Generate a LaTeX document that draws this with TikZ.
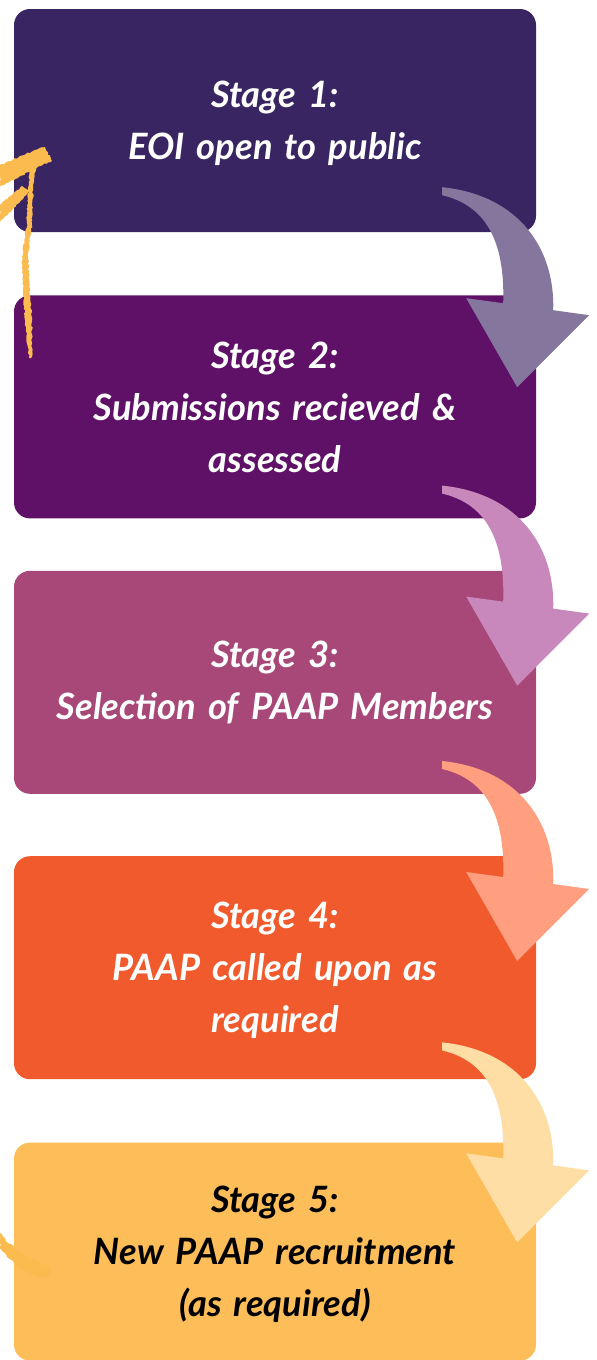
\documentclass[tikz,border=0pt]{standalone}
\usepackage{amsmath}
\usepackage{fontspec}
\setmainfont{Lato}
\usepackage{tikz}
\usetikzlibrary{positioning,calc,decorations.pathmorphing}

\definecolor{stageone}{HTML}{3A2563}
\definecolor{stagetwo}{HTML}{5E1167}
\definecolor{stagethree}{HTML}{A84878}
\definecolor{stagefour}{HTML}{F15A2D}
\definecolor{stagefive}{HTML}{FDBE59}
\definecolor{arrowone}{HTML}{85769D}
\definecolor{arrowtwo}{HTML}{C888BB}
\definecolor{arrowthree}{HTML}{FF9F80}
\definecolor{arrowfour}{HTML}{FFDEA6}
\definecolor{brushyellow}{HTML}{FBBB4E}

\tikzset{
  stage/.style={rectangle, rounded corners=16pt, minimum width=522pt, minimum height=223pt,
    text width=515pt, align=center, inner sep=0pt, text=white,
    font=\fontsize{36.3}{52}\selectfont\bfseries\itshape},
  bendarrow/.pic={
    \path[pic actions] (0,0) .. controls (78,-8) and (113,-63) .. (111,-123)
      -- (147,-128) -- (75,-200) -- (24,-111) -- (61,-116)
      .. controls (63,-53) and (43,-18) .. (0,-8) -- cycle;
  },
  brush/.style={fill=brushyellow, decorate,
    decoration={random steps, segment length=2pt, amplitude=0.8pt}}
}

\begin{document}
\begin{tikzpicture}[x=1pt, y=1pt]
  \useasboundingbox (0,0) rectangle (597,-1360);
  % stage boxes
  \node[stage, fill=stageone] (s1) at (275,-120.5) {Stage 1:\\\smash[b]{EOI open to public}};
  \node[stage, fill=stagetwo, below=63pt of s1] (s2) {Stage 2:\\Submissions recieved \&\\assessed};
  \node[stage, fill=stagethree, below=52pt of s2] (s3) {Stage 3:\\Selection of PAAP Members};
  \node[stage, fill=stagefour, below=62pt of s3] (s4) {Stage 4:\\PAAP called upon as\\\smash[b]{required}};
  \node[stage, fill=stagefive, text=black, minimum height=218pt, below=63pt of s4] (s5) {Stage 5:\\New PAAP recruitment\\\smash[b]{(as required)}};
  % curved arrows between stages
  \path ($(s1.south east)+(-94,45)$) pic[fill=arrowone] {bendarrow};
  \path ($(s2.south east)+(-94,33)$) pic[fill=arrowtwo] {bendarrow};
  \path ($(s3.south east)+(-94,33)$) pic[fill=arrowthree] {bendarrow};
  \path ($(s4.south east)+(-94,37)$) pic[fill=arrowfour] {bendarrow};
  % brush stroke back to stage 1
  \path[brush] (0,-165) -- (38,-149) -- (45,-147) -- (52,-161) -- (40,-166) -- (0,-187) -- cycle;
  \path[brush] (0,-205) -- (22,-186) -- (30,-191) -- (0,-222) -- cycle;
  \path[brush] (32,-152) -- (37,-154) -- (33,-190) -- (32,-223) -- (28,-257) -- (30,-290)
    -- (32,-320) -- (32,-357) -- (29,-358) -- (25,-320) -- (23,-290) -- (22,-257)
    -- (27,-223) -- (28,-190) -- cycle;
  \path[brush] (0,-1233) .. controls (8,-1243) and (20,-1256) .. (52,-1268) -- (50,-1276)
    -- (40,-1278) .. controls (25,-1272) and (10,-1262) .. (0,-1247) -- cycle;
\end{tikzpicture}
\end{document}
